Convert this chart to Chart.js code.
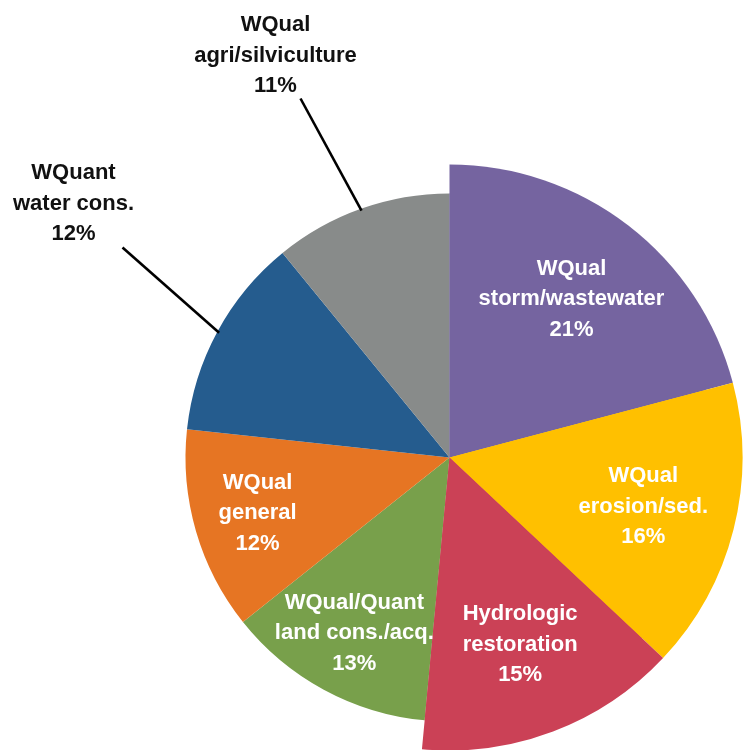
<!DOCTYPE html>
<html>
<head>
<meta charset="utf-8">
<script src="https://cdn.jsdelivr.net/npm/chart.js@4/dist/chart.umd.min.js"></script>
<style>
    html, body { margin: 0; padding: 0; background: #fff; }
    #wrap { width: 748px; height: 750px; }
</style>
</head>
<body>
<div id="wrap"><canvas id="pieChart" width="748" height="750"></canvas></div>
<script>
// Slices, clockwise from 12 o'clock
const categories = [
    ['WQual', 'storm/wastewater'],
    ['WQual', 'erosion/sed.'],
    ['Hydrologic', 'restoration'],
    ['WQual/Quant', 'land cons./acq.'],
    ['WQual', 'general'],
    ['WQuant', 'water cons.'],
    ['WQual', 'agri/silviculture']
];
const shares = [20.9, 16.1, 14.5, 12.8, 12.4, 12.4, 10.9];
const sliceColors = ['#7564A0', '#FFC000', '#CB4156', '#78A04B', '#E67523', '#255C8E', '#888B8A'];
// the first three slices stick out further than the rest
const enlarged = [true, true, true, false, false, false, false];

// labels drawn outside with a leader line (offsets from pie centre)
const outsideLabels = {
    5: { text: [-376, -254], line: [-327, -210] },
    6: { text: [-174, -402], line: [-149, -359] }
};

const labelFont = 'bold 22px "Liberation Sans", Arial, sans-serif';
const lineHeight = 30.5;

// Outer ring wedges are filled down to the centre so no seam shows
const fillRim = {
    id: 'fillRim',
    afterDatasetsUpdate(chart) {
        chart.getDatasetMeta(0).data.forEach(arc => { arc.innerRadius = 0; });
    }
};

// Plugin to write the slice labels
const sliceLabels = {
    id: 'sliceLabels',
    afterDraw(chart) {
        const ctx = chart.ctx;
        const arcs = chart.getDatasetMeta(1).data;
        ctx.save();
        ctx.font = labelFont;
        ctx.textAlign = 'center';
        ctx.textBaseline = 'middle';
        arcs.forEach((arc, i) => {
            const p = arc.getProps(['x', 'y', 'startAngle', 'endAngle', 'outerRadius'], true);
            const mid = (p.startAngle + p.endAngle) / 2;
            const lines = categories[i].concat([Math.round(shares[i]) + '%']);
            let cx, cy;
            if (outsideLabels[i]) {
                const o = outsideLabels[i];
                // leader line from the rim
                ctx.strokeStyle = '#000';
                ctx.lineWidth = 2.6;
                ctx.beginPath();
                ctx.moveTo(p.x + Math.cos(mid) * (p.outerRadius - 2), p.y + Math.sin(mid) * (p.outerRadius - 2));
                ctx.lineTo(p.x + o.line[0], p.y + o.line[1]);
                ctx.stroke();
                cx = p.x + o.text[0];
                cy = p.y + o.text[1];
                ctx.fillStyle = '#111';
            } else {
                const r = p.outerRadius * 0.757;
                cx = p.x + Math.cos(mid) * r;
                cy = p.y + Math.sin(mid) * r;
                ctx.fillStyle = '#fff';
            }
            lines.forEach((t, k) => {
                ctx.fillText(t, cx, cy + (k - 1) * lineHeight);
            });
        });
        ctx.restore();
    }
};

const ctx = document.getElementById('pieChart').getContext('2d');
new Chart(ctx, {
    type: 'pie',
    data: {
        labels: categories,
        datasets: [
            {
                // outer rim, only coloured for the enlarged slices
                data: shares,
                backgroundColor: sliceColors.map((c, i) => enlarged[i] ? c : 'rgba(0,0,0,0)'),
                borderWidth: 0,
                weight: 29
            },
            {
                data: shares,
                backgroundColor: sliceColors,
                borderWidth: 0,
                weight: 264
            }
        ]
    },
    options: {
        responsive: false,
        animation: false,
        radius: 293,
        layout: { padding: { left: 151, top: 165, right: 0, bottom: 0 } },
        plugins: {
            legend: { display: false },
            tooltip: { enabled: false }
        }
    },
    plugins: [fillRim, sliceLabels]
});
</script>
</body>
</html>
